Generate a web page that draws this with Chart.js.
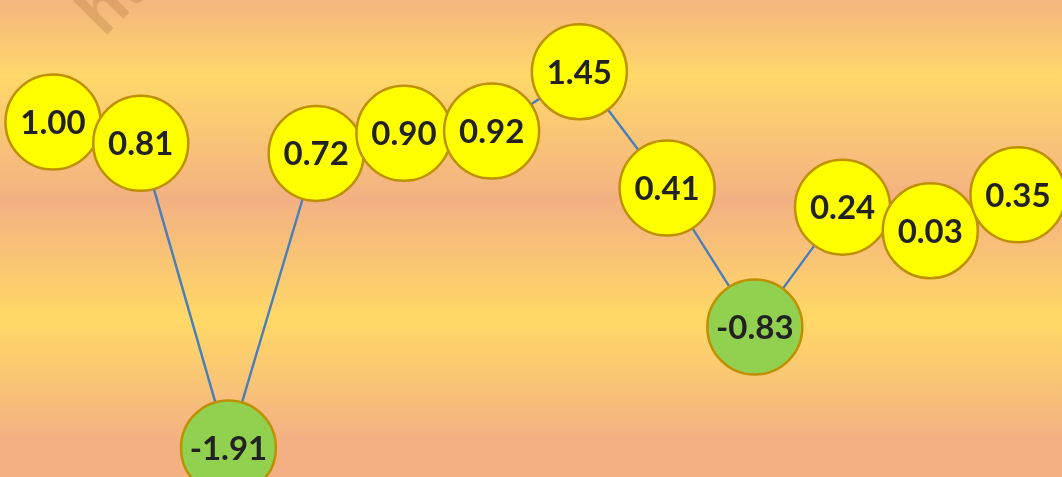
<!DOCTYPE html>
<html>
<head>
<meta charset="utf-8">
<script src="https://cdn.jsdelivr.net/npm/chart.js@4.4.1/dist/chart.umd.min.js"></script>
<style>
  html, body { margin: 0; padding: 0; }
  #wrap { position: relative; width: 1062px; height: 477px; }
</style>
</head>
<body>
<div id="wrap"><canvas id="c"></canvas></div>
<script>
// Series: twelve consecutive readings
const categories = ['1', '2', '3', '4', '5', '6', '7', '8', '9', '10', '11', '12'];
const values = [1.00, 0.81, -1.91, 0.72, 0.90, 0.92, 1.45, 0.41, -0.83, 0.24, 0.03, 0.35];
const watermarkText = 'http';

const POS_FILL = '#FFFF00';
const NEG_FILL = '#92D050';

// Banded warm background behind the whole canvas
const backgroundBands = {
  id: 'backgroundBands',
  beforeDraw(chart) {
    const { ctx, width, height } = chart;
    const g = ctx.createLinearGradient(0, 0, 0, height);
    g.addColorStop(0.00, '#F4B57F');
    g.addColorStop(0.16, '#FED86A');
    g.addColorStop(0.42, '#F3B183');
    g.addColorStop(0.67, '#FFD966');
    g.addColorStop(0.92, '#F3B183');
    g.addColorStop(1.00, '#F3B183');
    ctx.save();
    ctx.fillStyle = g;
    ctx.fillRect(0, 0, width, height);
    ctx.restore();
  },
  beforeDatasetsDraw(chart) {
    const { ctx } = chart;
    ctx.save();
    ctx.translate(104, 38);
    ctx.rotate(-Math.PI / 4);
    ctx.font = 'bold 66px "Liberation Sans", Arial, sans-serif';
    ctx.fillStyle = 'rgba(170, 120, 60, 0.30)';
    ctx.textBaseline = 'alphabetic';
    ctx.fillText(watermarkText, 0, 0);
    ctx.restore();
  }
};

// Value text centred inside each circle
const valueLabels = {
  id: 'valueLabels',
  afterDatasetsDraw(chart) {
    const { ctx } = chart;
    const meta = chart.getDatasetMeta(0);
    ctx.save();
    ctx.font = 'bold 33px Lato, "Open Sans", sans-serif';
    ctx.fillStyle = '#222222';
    ctx.textAlign = 'center';
    ctx.textBaseline = 'alphabetic';
    const asc = ctx.measureText('0123456789').actualBoundingBoxAscent;
    meta.data.forEach((pt, i) => {
      const txt = values[i].toFixed(2);
      ctx.fillText(txt, pt.x, pt.y + asc / 2);
    });
    ctx.restore();
  }
};

const pointColors = values.map(v => (v < 0 ? NEG_FILL : POS_FILL));

new Chart(document.getElementById('c'), {
  type: 'line',
  data: {
    labels: categories,
    datasets: [{
      data: values,
      borderColor: '#4A7EBB',
      borderWidth: 2.4,
      tension: 0,
      clip: false,
      pointRadius: 47.5,
      pointHoverRadius: 47.5,
      pointBackgroundColor: pointColors,
      pointBorderColor: '#BF9000',
      pointBorderWidth: 2.5
    }]
  },
  options: {
    responsive: true,
    maintainAspectRatio: false,
    animation: false,
    events: [],
    layout: { autoPadding: false, padding: { left: 53, right: 44, top: 0, bottom: 0 } },
    plugins: { legend: { display: false }, tooltip: { enabled: false } },
    scales: {
      x: { display: false, offset: false },
      y: { display: false, min: -2.17, max: 2.09 }
    }
  },
  plugins: [backgroundBands, valueLabels]
});
</script>
</body>
</html>
